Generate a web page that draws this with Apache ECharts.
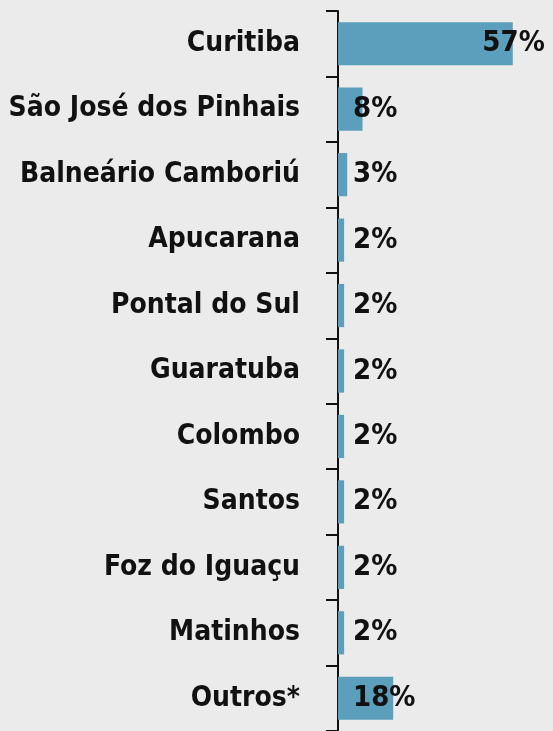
<!DOCTYPE html>
<html>
<head>
<meta charset="utf-8">
<script src="https://cdn.jsdelivr.net/npm/echarts@6/dist/echarts.min.js"></script>
<style>
  html, body { margin: 0; padding: 0; background: #ebebeb; }
  #chart { width: 553px; height: 731px; }
</style>
</head>
<body>
<div id="chart"></div>
<script>
var cidades = ["Curitiba", "São José dos Pinhais", "Balneário Camboriú", "Apucarana",
  "Pontal do Sul", "Guaratuba", "Colombo", "Santos", "Foz do Iguaçu", "Matinhos", "Outros*"];
var percentuais = [57, 8, 3, 2, 2, 2, 2, 2, 2, 2, 18];

var fonte = '"DejaVu Sans Condensed", "Liberation Sans Narrow", sans-serif';

var myChart = echarts.init(document.getElementById("chart"));
var option = {
  backgroundColor: "#ebebeb",
  animation: false,
  grid: { left: 338, right: 31, top: 11, bottom: 0, outerBoundsMode: "none", containLabel: false },
  xAxis: {
    type: "value",
    min: 0,
    max: 60,
    show: false
  },
  yAxis: {
    type: "category",
    inverse: true,
    data: cidades,
    axisLine: { show: true, lineStyle: { color: "#111", width: 2 } },
    axisTick: { show: true, length: 12, lineStyle: { color: "#111", width: 2 } },
    axisLabel: {
      margin: 38,
      color: "#111",
      fontFamily: fonte,
      fontWeight: "bold",
      fontSize: 28
    }
  },
  series: [
    {
      type: "bar",
      barCategoryGap: "34%",
      itemStyle: { color: "#5b9fbd" },
      label: {
        show: true,
        position: [15, "50%"],
        verticalAlign: "middle",
        formatter: "{c}%",
        color: "#111",
        fontFamily: fonte,
        fontWeight: "bold",
        fontSize: 29
      },
      data: percentuais.map(function (v, i) {
        // rótulo do maior valor fica no fim da barra
        if (i === 0) {
          return { value: v, label: { position: "insideRight", offset: [37, 0] } };
        }
        return v;
      })
    }
  ]
};
myChart.setOption(option);
</script>
</body>
</html>
